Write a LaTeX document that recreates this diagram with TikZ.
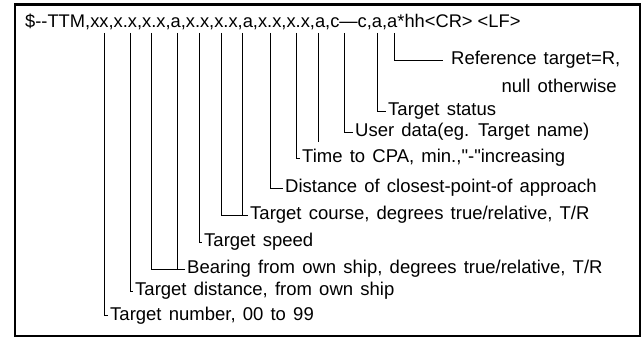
\documentclass[tikz,border=0pt]{standalone}
\usepackage{fontspec}
\setmainfont{Liberation Sans}
\newfontfamily\lblfont[WordSpace=1.4]{Liberation Sans}
\usetikzlibrary{positioning, calc}

\begin{document}
\begin{tikzpicture}[x=1pt, y=-1pt,
  hdr/.style={anchor=base west, inner sep=0pt, font=\fontsize{18.3}{20}\selectfont},
  lbl/.style={anchor=west, inner xsep=2pt, inner ysep=0pt, text height=13pt, text depth=3pt, font=\lblfont\fontsize{18.5}{21}\selectfont},
  lead/.style={line width=0.8pt},
  frm/.style={line width=2.6pt}
]
\useasboundingbox (0,0) rectangle (643,339);
\draw[frm] (15,4.5) rectangle (640,336);

% sentence header
\node[hdr] (head) at (25,28) {\$-{}-TTM,xx,x.x,x.x,a,x.x,x.x,a,x.x,x.x,a,c---c,a,a*hh<CR> <LF>};

% field positions under the header
\foreach \n/\x in {num/104, dst/130, brg/151, brgr/177, spd/199, crs/221, crsr/242,
                   cpa/270, tcpa/296, unit/318, usr/344, sts/377, ref/394}
  \coordinate (f\n) at (\x,33);
\coordinate (unitend) at (318,142);

% field descriptions
\node[lbl, inner xsep=8pt] (ref) at (443,60) {Reference target=R,};
\node[lbl, anchor=east, inner xsep=0pt] (refnull) at (617,88) {null otherwise};
\node[lbl] (sts) at (386,111) {Target status};
\node[lbl] (usr) at (353,132) {User data(eg. Target name)};
\node[lbl] (tcpa) at (300,158) {Time to CPA, min.,"-"increasing};
\node[lbl] (cpa) at (283,188) {Distance of closest-point-of approach};
\node[lbl] (crs) at (248,215) {Target course, degrees true/relative, T/R};
\node[lbl] (spd) at (202,242) {Target speed};
\node[lbl] (brg) at (185,269) {Bearing from own ship, degrees true/relative, T/R};
\node[lbl] (dst) at (133,291) {Target distance, from own ship};
\node[lbl] (num) at (108,315) {Target number, 00 to 99};

% leader lines
\draw[lead] (fnum) |- (num.west);
\draw[lead] (fdst) |- (dst.west);
\draw[lead] (fbrg) |- (brg.west);
\draw[lead] (fbrgr) -- (fbrgr |- brg.west);
\draw[lead] (fspd) |- (spd.west);
\draw[lead] (fcrs) |- (crs.west);
\draw[lead] (fcrsr) -- (fcrsr |- crs.west);
\draw[lead] (fcpa) |- (cpa.west);
\draw[lead] (ftcpa) |- (tcpa.west);
\draw[lead] (funit) -- (unitend);
\draw[lead] (fusr) |- (usr.west);
\draw[lead] (fsts) |- (sts.west);
\draw[lead] (fref) |- (ref.west);
\end{tikzpicture}
\end{document}
